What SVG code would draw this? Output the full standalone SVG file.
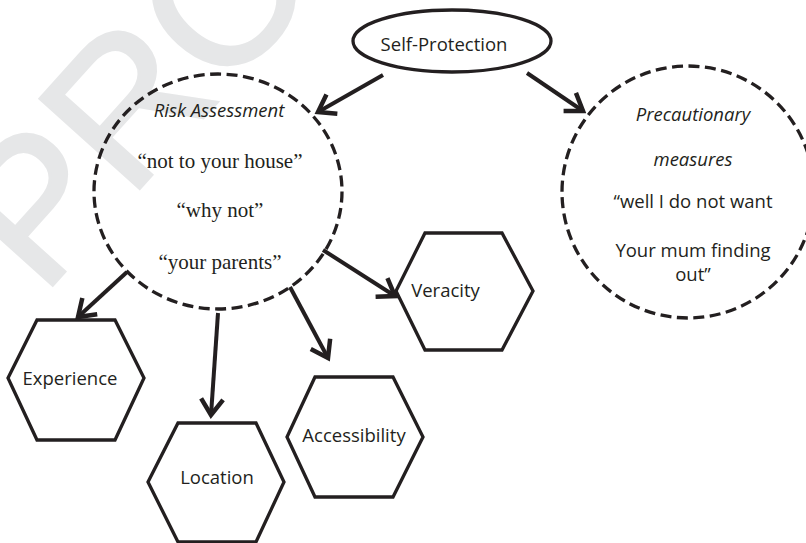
<svg xmlns="http://www.w3.org/2000/svg" width="806" height="543" viewBox="0 0 806 543">
  <style>
    .sans { font-family: "Open Sans", "Noto Sans", "Liberation Sans", sans-serif; font-size: 18.5px; fill: #231f20; text-anchor: middle; }
    .ital { font-family: "Open Sans", "Noto Sans", "Liberation Sans", sans-serif; font-style: italic; font-size: 18.5px; fill: #231f20; text-anchor: middle; }
    .serif { font-family: "Liberation Serif", "Times New Roman", serif; font-size: 21px; fill: #231f20; text-anchor: middle; }
    .hex { fill: none; stroke: #231f20; stroke-width: 3.3; stroke-linejoin: miter; }
    .dashed { fill: none; stroke: #231f20; stroke-width: 3.3; stroke-dasharray: 11 5.5; }
    .solid { fill: none; stroke: #231f20; stroke-width: 3.3; }
    .conn { fill: none; stroke: #231f20; stroke-width: 4; marker-end: url(#arrow); }
    .wm { font-family: "Liberation Sans", Arial, sans-serif; font-size: 195px; fill: #e6e7e8; stroke: #e6e7e8; stroke-width: 3; }
  </style>
  <defs>
    <marker id="arrow" markerUnits="userSpaceOnUse" viewBox="-24 -16 28 32" markerWidth="28" markerHeight="32" refX="0" refY="0" orient="auto">
      <path d="M-16,-11 L0,0 L-16,11" fill="none" stroke="#231f20" stroke-width="4.5" stroke-linejoin="miter"/>
    </marker>
  </defs>
  <rect width="806" height="543" fill="#ffffff"/>
  <text class="wm" transform="translate(42,297) rotate(-48)">PRO</text>

  <g id="connectors">
    <line class="conn" x1="383" y1="75" x2="318" y2="112"/>
    <line class="conn" x1="527" y1="73" x2="583" y2="111"/>
    <line class="conn" x1="127" y1="272" x2="78" y2="317"/>
    <line class="conn" x1="218" y1="313" x2="211" y2="415"/>
    <line class="conn" x1="290" y1="287" x2="328" y2="358"/>
    <line class="conn" x1="323" y1="250" x2="395" y2="296"/>
  </g>

  <g id="self-protection">
    <ellipse class="solid" cx="452" cy="41" rx="99" ry="31"/>
    <text class="sans" x="444" y="51">Self-Protection</text>
  </g>

  <g id="risk-assessment">
    <ellipse class="dashed" cx="218" cy="191.5" rx="124" ry="117.5"/>
    <text class="ital" x="219" y="117">Risk Assessment</text>
    <text class="serif" x="220" y="168">“not to your house”</text>
    <text class="serif" x="220" y="217">“why not”</text>
    <text class="serif" x="220" y="269">“your parents”</text>
  </g>

  <g id="precautionary">
    <ellipse class="dashed" cx="688" cy="192" rx="126" ry="126"/>
    <text class="ital" x="693" y="121">Precautionary</text>
    <text class="ital" x="693" y="166">measures</text>
    <text class="sans" x="693" y="208">“well I do not want</text>
    <text class="sans" x="693" y="257">Your mum finding</text>
    <text class="sans" x="693" y="281">out”</text>
  </g>

  <g id="experience">
    <polygon class="hex" points="37,320 115,320 144,378 115,440 37,440 8,378"/>
    <text class="sans" x="70" y="385">Experience</text>
  </g>

  <g id="location">
    <polygon class="hex" points="178,423 256,423 284,482 256,542 178,542 148,482"/>
    <text class="sans" x="217" y="484">Location</text>
  </g>

  <g id="accessibility">
    <polygon class="hex" points="315,377 393,377 423,437 393,497 315,497 287,437"/>
    <text class="sans" x="354" y="442">Accessibility</text>
  </g>

  <g id="veracity">
    <polygon class="hex" points="425,233 502,233 533,291 502,350 425,350 396,291"/>
    <text class="sans" x="445.5" y="297">Veracity</text>
  </g>
</svg>
